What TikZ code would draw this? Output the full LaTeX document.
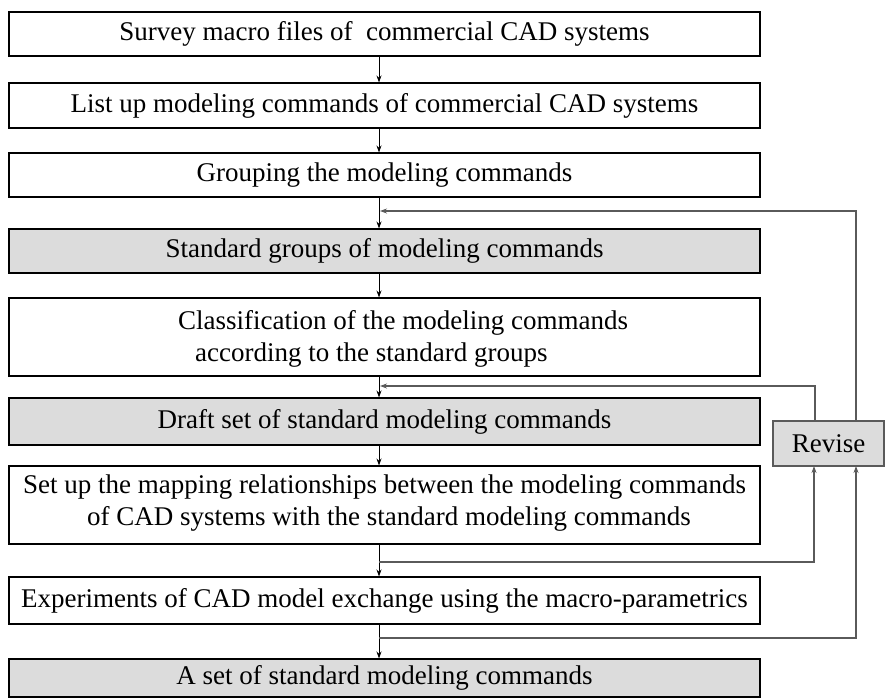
\documentclass[tikz,border=0pt]{standalone}
\usepackage{fontspec}
\setmainfont{Liberation Serif}
\usetikzlibrary{arrows.meta}
\definecolor{boxgray}{HTML}{DCDCDC}
\definecolor{linegray}{HTML}{5A5A5A}
\begin{document}
\begin{tikzpicture}[x=1pt,y=-1pt,
  stepbox/.style={draw=black, line width=1.1pt, rectangle, inner sep=0pt,
    minimum width=751pt, font=\fontsize{27}{32}\selectfont},
  shaded/.style={stepbox, fill=boxgray},
  txt/.style={inner sep=0pt, align=left, anchor=west, font=\fontsize{27}{32}\selectfont},
  flow/.style={draw=black, line width=0.9pt, -{Stealth[length=7pt,width=5pt]}},
  back/.style={draw=linegray, line width=1.1pt, -{Stealth[length=7pt,width=5pt]}},
  plain/.style={draw=black, line width=0.9pt}
]
\useasboundingbox (0,0) rectangle (885,697);

% main column of steps
\node[stepbox, minimum height=44pt] (b1) at (384.5,34) {Survey macro files of\ \ commercial CAD systems};
\node[stepbox, minimum height=45pt] (b2) at (384.5,105.5) {List up modeling commands of commercial CAD systems};
\node[stepbox, minimum height=44pt] (b3) at (384.5,175) {Grouping the modeling commands};
\node[shaded,  minimum height=44pt] (b4) at (384.5,251) {Standard groups of modeling commands};
\node[stepbox, minimum height=78pt] (b5) at (384.5,337) {};
\node[txt] (t5) at (178,339) {Classification of the modeling commands\\\hspace{17pt}according to the standard groups};
\node[shaded,  minimum height=47pt] (b6) at (384.5,421.5) {Draft set of standard modeling commands};
\node[stepbox, minimum height=78pt] (b7) at (384.5,505) {};
\node[txt] (t7) at (23,503) {Set up the mapping relationships between the modeling commands\\\hspace{64pt}of CAD systems with the standard modeling commands};
\node[stepbox, minimum height=47pt] (b8) at (384.5,600.5) {Experiments of CAD model exchange using the macro-parametrics};
\node[shaded,  minimum height=38pt] (b9) at (384.5,678) {A set of standard modeling commands};

% revision box on the right
\node[draw=linegray, line width=1.1pt, fill=boxgray, inner sep=0pt,
      minimum width=111pt, minimum height=45pt, font=\fontsize{27}{32}\selectfont]
      (rev) at (828.5,443.5) {Revise};

% junction points on the main flow line
\coordinate (j1) at (379,211);
\coordinate (j2) at (379,386);
\coordinate (j3) at (379,562);
\coordinate (j4) at (379,638);

% downward flow
\draw[flow] (b1.south -| j1) -- (b2.north -| j1);
\draw[flow] (b2.south -| j1) -- (b3.north -| j1);
\draw[flow] (b3.south -| j1) -- (b4.north -| j1);
\draw[flow] (b4.south -| j1) -- (b5.north -| j1);
\draw[flow] (b5.south -| j1) -- (b6.north -| j1);
\draw[flow] (b6.south -| j1) -- (b7.north -| j1);
\draw[flow] (b7.south -| j1) -- (b8.north -| j1);
\draw[flow] (b8.south -| j1) -- (b9.north -| j1);

% feedback into the revision step
\draw[back] (j3) -- (814,562) -- (814,466);
\draw[back] (j4) -- (856,638) -- (856,466);

% revised results fed back into the flow
\draw[back] (856,421) -- (856,211) -- ([xshift=1pt]j1);
\draw[back] (815,421) -- (815,386) -- ([xshift=1pt]j2);
\end{tikzpicture}
\end{document}
